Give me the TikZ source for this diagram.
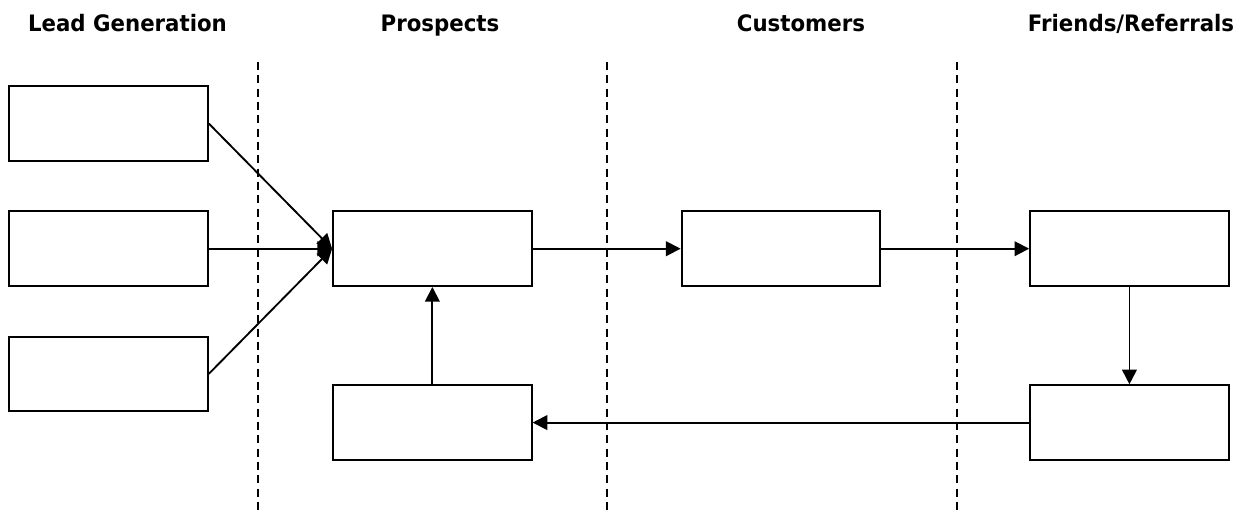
\documentclass[tikz,border=0pt]{standalone}
\usepackage{fontspec}
\newfontfamily\headfont[FakeStretch=0.94]{DejaVu Sans}
\usepackage{tikz}
\usetikzlibrary{positioning,arrows.meta}

\begin{document}
\begin{tikzpicture}[
    x=0.75pt, y=-0.75pt,
    node distance=36.5pt,
    stage/.style={rectangle, draw, line width=1.4pt, minimum width=149pt, minimum height=56pt},
    heading/.style={anchor=base, font=\headfont\bfseries\fontsize{17}{20}\selectfont},
    arrow/.style={line width=1.4pt, -{Triangle[length=11pt,width=11pt]}},
    divider/.style={line width=1.1pt, dash pattern=on 6pt off 4pt}
]
\useasboundingbox (0,0) rectangle (1243,511);

% Column headings
\node[heading] (tlead) at (127.5,31) {Lead Generation};
\node[heading] (tprosp) at (440,31) {Prospects};
\node[heading] (tcust) at (801,31) {Customers};
\node[heading] (trefer) at (1131,31) {Friends/Referrals};

% Column dividers
\draw[divider] (258,62) -- (258,511);
\draw[divider] (607,62) -- (607,511);
\draw[divider] (957,62) -- (957,511);

% Lead sources
\node[stage] (lead1) at (108.5,123.5) {};
\node[stage, below=of lead1] (lead2) {};
\node[stage, below=of lead2] (lead3) {};

% Main flow
\node[stage, right=92.5pt of lead2] (prosp) {};
\node[stage, right=111pt of prosp] (cust) {};
\node[stage, right=111pt of cust] (refer) {};

% Return path
\node[stage, below=73pt of refer] (friend) {};
\node[stage, below=73pt of prosp] (back) {};

% Connections
\draw[arrow] (lead1.east) -- (prosp.west);
\draw[arrow] (lead2) -- (prosp);
\draw[arrow] (lead3.east) -- (prosp.west);

\draw[arrow] (prosp) -- (cust);
\draw[arrow] (cust) -- (refer);
\draw[arrow] (refer) -- (friend);
\draw[arrow] (friend) -- (back);
\draw[arrow] (back) -- (prosp);

\end{tikzpicture}
\end{document}
